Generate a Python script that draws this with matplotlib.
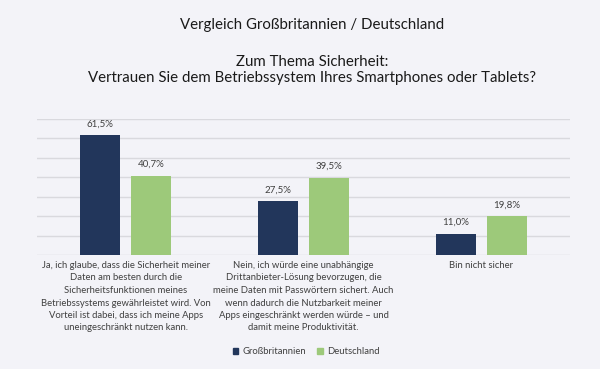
import matplotlib
matplotlib.use("Agg")
import matplotlib.pyplot as plt
from matplotlib.patches import Patch
from matplotlib.transforms import blended_transform_factory
import numpy as np

# Daten
kategorien = [
    "Ja, ich glaube, dass die Sicherheit meiner\nDaten am besten durch die\n"
    "Sicherheitsfunktionen meines\nBetriebssystems gewährleistet wird. Von\n"
    "Vorteil ist dabei, dass ich meine Apps\nuneingeschränkt nutzen kann.",
    "Nein, ich würde eine unabhängige\nDrittanbieter-Lösung bevorzugen, die\n"
    "meine Daten mit Passwörtern sichert. Auch\nwenn dadurch die Nutzbarkeit meiner\n"
    "Apps eingeschränkt werden würde – und\ndamit meine Produktivität.",
    "Bin nicht sicher",
]
grossbritannien = [61.5, 27.5, 11.0]
deutschland = [40.7, 39.5, 19.8]
serien = ["Großbritannien", "Deutschland"]

BG = "#f3f3f8"
NAVY = "#22365b"
GRUEN = "#9dc97a"
GRID = "#d9d9de"
TXT = "#404040"

plt.rcParams["font.family"] = ["Lato", "DejaVu Sans"]

fig = plt.figure(figsize=(6, 3.69), dpi=100, facecolor=BG)
ax = fig.add_axes([37 / 600, 1 - 255 / 369, (570 - 37) / 600, (255 - 118.7) / 369])
ax.set_facecolor(BG)

x = np.arange(len(kategorien))
w, gap = 0.225, 0.062
off = (w + gap) / 2
b1 = ax.bar(x - off, grossbritannien, w, color=NAVY, zorder=3)
b2 = ax.bar(x + off, deutschland, w, color=GRUEN, zorder=3)

for bars, vals in ((b1, grossbritannien), (b2, deutschland)):
    for r, v in zip(bars, vals):
        ax.annotate(f"{v:.1f}%".replace(".", ","), (r.get_x() + r.get_width() / 2, v),
                    xytext=(0, 5), textcoords="offset points", ha="center", va="bottom",
                    fontsize=7, color=TXT)

ax.set_ylim(0, 70)
ax.set_xlim(-0.5, 2.5)
ax.set_yticks(np.arange(0, 71, 10))
ax.yaxis.grid(True, color=GRID, linewidth=1, zorder=0)
ax.set_xticks([])
ax.tick_params(left=False, labelleft=False)
for s in ax.spines.values():
    s.set_visible(False)

tr = blended_transform_factory(ax.transData, fig.transFigure)
for i, lab in enumerate(kategorien):
    ax.text(i, 1 - 261 / 369, lab, transform=tr, ha="center", va="top",
            fontsize=6.8, color=TXT, linespacing=1.5)

fig.text(0.52, 1 - 24.5 / 369, "Vergleich Großbritannien / Deutschland",
         ha="center", va="center", fontsize=10.8, color="#1a1a1a")
fig.text(0.52, 1 - 70 / 369,
         "Zum Thema Sicherheit:\nVertrauen Sie dem Betriebssystem Ihres Smartphones oder Tablets?",
         ha="center", va="center", fontsize=10.8, color="#1a1a1a", linespacing=1.2)

handles = [Patch(color=NAVY), Patch(color=GRUEN)]
fig.legend(handles, serien, loc="center", bbox_to_anchor=(306 / 600, 1 - 352 / 369),
           ncol=2, frameon=False, fontsize=6.8, handlelength=0.6, handleheight=0.6,
           handletextpad=0.4, columnspacing=1.2, labelcolor=TXT)

fig.savefig("out.png", dpi=100, facecolor=BG)
